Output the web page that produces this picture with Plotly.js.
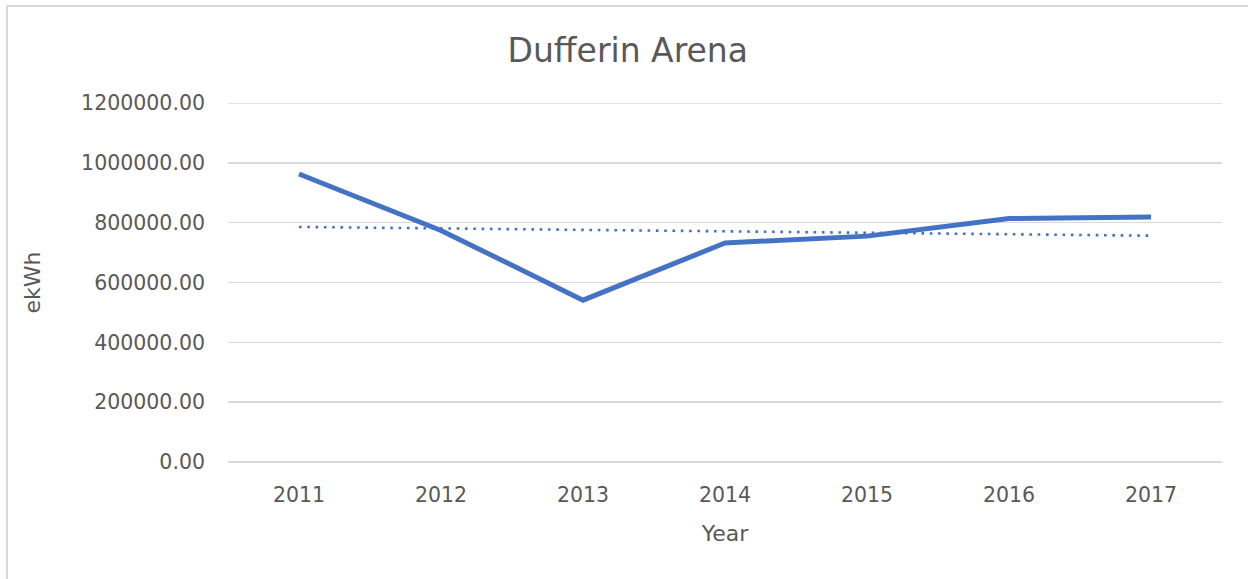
<!DOCTYPE html>
<html>
<head>
<meta charset="utf-8">
<script src="https://cdn.plot.ly/plotly-3.0.1.min.js"></script>
<style>
  html, body { margin:0; padding:0; background:#fff; overflow:hidden; }
  #chart { position:absolute; left:0; top:0; width:1248px; height:579px; }
  #frame { position:absolute; left:6px; top:5px; width:1400px; height:800px; border:2px solid #d9d9d9; box-sizing:border-box; pointer-events:none; }
</style>
</head>
<body>
<div id="chart"></div>
<div id="frame"></div>
<script>
const chartTitle = "Dufferin Arena";
const xTitle = "Year";
const yTitle = "ekWh";
const years = ["2011", "2012", "2013", "2014", "2015", "2016", "2017"];
const ekWh = [962500, 774000, 541000, 732000, 755000, 814000, 819000];
const yTicks = [0, 200000, 400000, 600000, 800000, 1000000, 1200000];

// Linear trendline (least squares) computed from the series, as Excel does
const n = ekWh.length;
const xs = ekWh.map((_, i) => i + 1);
const mx = xs.reduce((a, b) => a + b, 0) / n;
const my = ekWh.reduce((a, b) => a + b, 0) / n;
let sxy = 0, sxx = 0;
for (let i = 0; i < n; i++) { sxy += (xs[i] - mx) * (ekWh[i] - my); sxx += (xs[i] - mx) ** 2; }
const slope = sxy / sxx;
const trend = xs.map(x => my + slope * (x - mx));

const font = "DejaVu Sans, Verdana, sans-serif";
const grey = "#595959";
const blue = "#4472C4";
const yMax = yTicks[yTicks.length - 1];

const data = [
  { x: years, y: ekWh, type: "scatter", mode: "lines", name: "ekWh",
    line: { color: blue, width: 5 }, hoverinfo: "x+y" },
  { x: years, y: trend, type: "scatter", mode: "lines", name: "Linear (ekWh)",
    line: { color: blue, width: 2.6, dash: "2.6px,5.7px" }, hoverinfo: "skip" }
];

const layout = {
  width: 1248, height: 579,
  margin: { l: 228, r: 26, t: 103, b: 117 },
  paper_bgcolor: "rgba(0,0,0,0)", plot_bgcolor: "#fff",
  showlegend: false,
  font: { family: font, color: grey, size: 20 },
  title: { text: chartTitle, font: { family: font, size: 33, color: grey },
           x: 0.503, xanchor: "center", yref: "container", y: 1 - 50/579, yanchor: "middle" },
  xaxis: {
    type: "category", range: [-0.5, 6.5],
    showgrid: false, zeroline: false, showline: false, ticks: "",
    tickfont: { family: font, size: 20.5, color: grey },
    ticklabelstandoff: 18,
    title: { text: xTitle, font: { family: font, size: 22, color: grey }, standoff: 20 }
  },
  yaxis: {
    range: [0, yMax], tickvals: yTicks,
    ticktext: yTicks.map(v => v.toFixed(2)),
    showgrid: true, gridcolor: "#d9d9d9", gridwidth: 1.5,
    zeroline: true, zerolinecolor: "#d9d9d9", zerolinewidth: 1.5,
    showline: false, ticks: "",
    tickfont: { family: font, size: 20.5, color: grey },
    ticklabelstandoff: 22,
    title: { text: yTitle, font: { family: font, size: 22, color: grey }, standoff: 34 }
  },
  shapes: [
    { type: "line", xref: "paper", yref: "y", x0: 0, x1: 1, y0: yMax, y1: yMax,
      line: { color: "#d9d9d9", width: 1.5 }, layer: "below" }
  ]
};

Plotly.newPlot("chart", data, layout, { displayModeBar: false, staticPlot: true });
</script>
</body>
</html>
